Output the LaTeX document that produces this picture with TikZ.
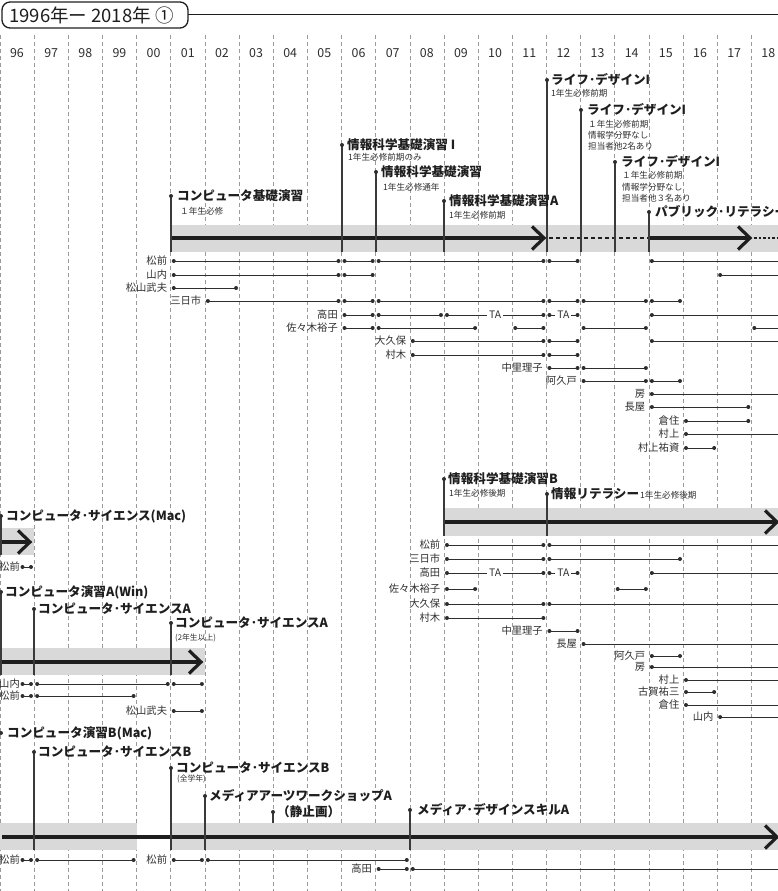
\documentclass[tikz,border=0pt]{standalone}
\usepackage{fontspec}
\setmainfont{Noto Sans CJK JP}
\definecolor{bandc}{HTML}{D9D9D9}
\definecolor{ink}{HTML}{1E1E1E}
\definecolor{txt}{HTML}{2E2E2E}
\definecolor{stemc}{HTML}{3A3A3A}
\definecolor{gridc}{HTML}{9A9A9A}
\tikzset{
  gridline/.style={gridc, line width=0.6pt, dash pattern=on 4pt off 3pt},
  bandfill/.style={fill=bandc, draw=none},
  mainline/.style={ink, line width=3.4pt},
  chevline/.style={ink, line width=3.2pt, line join=miter, line cap=butt},
  stemline/.style={stemc, line width=1.1pt},
  pline/.style={txt, line width=1pt},
  pdot/.style={fill=txt},
  ttl/.style={anchor=west, inner sep=0pt, font=\fontsize{12.6}{13}\selectfont\bfseries, text=ink},
  subt/.style={anchor=west, inner sep=0pt, font=\fontsize{8.6}{9}\selectfont, text=txt},
  pname/.style={anchor=east, inner sep=0pt, font=\fontsize{10.3}{11}\selectfont, text=txt},
  yearlab/.style={inner sep=0pt, font=\fontsize{12.4}{13}\selectfont, text=txt},
  talabel/.style={fill=white, inner xsep=2pt, inner ysep=1pt, font=\fontsize{10.3}{11}\selectfont, text=txt},
}
% person segments
\newcommand\tlseg[3]{%
  \draw[pline] ({34.15*#2+3},#1) -- ({34.15*#3-3},#1);
  \fill[pdot] ({34.15*#2+3},#1) circle[radius=2pt] ({34.15*#3-3},#1) circle[radius=2pt];}
\newcommand\tlsego[2]{%
  \draw[pline] ({34.15*#2+3},#1) -- (782,#1);
  \fill[pdot] ({34.15*#2+3},#1) circle[radius=2pt];}
\newcommand\tlsegx[3]{%
  \draw[pline] (#2,#1) -- (#3,#1);
  \fill[pdot] (#2,#1) circle[radius=2pt] (#3,#1) circle[radius=2pt];}
\newcommand\tlsegta[3]{%
  \tlseg{#1}{#2}{#3}
  \node[talabel] at ({34.15*(#2+#3)/2},#1) {TA};}
\newcommand\tlpn[4]{\node[pname] (#1) at ({34.15*#3-3.5},#4) {#2};}
\newcommand\tlpnx[4]{\node[pname] (#1) at (#3,#4) {#2};}
% stems
\newcommand\tlstem[4]{% name x ytop ybottom
  \coordinate (#1top) at (#2,#3); \coordinate (#1bot) at (#2,#4);
  \draw[stemline] (#1top) -- (#1bot);
  \fill[pdot] (#1top) circle[radius=2pt];}
\newcommand\tlchev[2]{\draw[chevline] ({#1-12},{#2-11.5}) -- (#1,#2) -- ({#1-12},{#2+11.5});}
\begin{document}
\begin{tikzpicture}[x=1pt,y=-1pt]
\useasboundingbox (0,0) rectangle (778,891);
\clip (0,0) rectangle (778,891);
% grid
\foreach \k in {0,...,22}{
  \draw[gridline] ({max(34.15*\k,0.4)},35) -- ({max(34.15*\k,0.4)},891);
}
\foreach \lab [count=\i from 0] in {96,97,98,99,00,01,02,03,04,05,06,07,08,09,10,11,12,13,14,15,16,17,18}{
  \node[yearlab] (y\i) at ({34.15*\i+17},53) {\lab};
}
% header
\draw[ink, line width=1.3pt, rounded corners=8pt] (2,2) rectangle (188,28);
\node[anchor=west, inner sep=0pt, font=\fontsize{18.5}{19}\selectfont, text=ink] (hdr) at (9,15.5) {1996年ー 2018年 ①};
\coordinate (hl0) at (188,15); \coordinate (hl1) at (782,15);
\draw[ink, line width=1pt] (hl0) -- (hl1);

% ================= track 1
\fill[bandfill] (171,225) rectangle (782,252);
\draw[mainline] (171,238) -- (543,238);
\tlchev{544}{238}
\draw[ink, line width=2pt, dash pattern=on 4pt off 3pt] (549,238) -- (649,238);
\draw[mainline] (649,238) -- (749,238);
\tlchev{750}{238}
\draw[ink, line width=2pt, dash pattern=on 2.5pt off 2pt] (754,238) -- (782,238);
\tlstem{a1}{171}{196}{252}
\tlstem{a2}{342}{145}{252}
\tlstem{a3}{376}{172}{252}
\tlstem{a4}{444}{201}{252}
\tlstem{a5}{547}{80}{252}
\tlstem{a6}{581}{110}{252}
\tlstem{a7}{615}{162}{252}
\tlstem{a8}{649}{212}{252}
\node[ttl] (ta1) at (177,196) {コンピュータ基礎演習};
\node[subt] at (180,211) {１年生必修};
\node[ttl] (ta2) at (347,145) {情報科学基礎演習 I};
\node[subt] at (348,157) {1年生必修前期のみ};
\node[ttl] (ta3) at (381,172) {情報科学基礎演習};
\node[subt] at (383,187) {1年生必修通年};
\node[ttl] (ta4) at (449,201) {情報科学基礎演習A};
\node[subt] at (449,215) {1年生必修前期};
\node[ttl] (ta5) at (551,80) {ライフ･デザインI};
\node[subt] at (551,93) {1年生必修前期};
\node[ttl] (ta6) at (587,110) {ライフ･デザインI};
\node[subt] at (588,124) {１年生必修前期};
\node[subt] at (588,135) {情報学分野なし};
\node[subt] at (588,146) {担当者他2名あり};
\node[ttl] (ta7) at (621,162) {ライフ･デザインI};
\node[subt] at (622,175) {１年生必修前期};
\node[subt] at (622,187) {情報学分野なし};
\node[subt] at (622,198) {担当者他３名あり};
\node[ttl] (ta8) at (655,212) {パブリック･リテラシー};

% people track 1
\tlpn{p1}{松前}{5}{261}
\tlseg{261}{5}{10}\tlseg{261}{10}{11}\tlseg{261}{11}{16}\tlseg{261}{16}{17}\tlsego{261}{19}
\tlpn{p2}{山内}{5}{275}
\tlseg{275}{5}{10}\tlseg{275}{10}{11}\tlsego{275}{21}
\tlpn{p3}{松山武夫}{5}{288}
\tlseg{288}{5}{7}
\tlpn{p4}{三日市}{6}{301}
\tlseg{301}{6}{10}\tlseg{301}{10}{11}\tlseg{301}{11}{16}\tlseg{301}{16}{17}\tlseg{301}{17}{19}\tlseg{301}{19}{20}
\tlpn{p5}{高田}{10}{315}
\tlseg{315}{10}{11}\tlseg{315}{11}{13}\tlsegta{315}{13}{16}\tlsegta{315}{16}{17}\tlsego{315}{19}
\tlpn{p6}{佐々木裕子}{10}{328}
\tlseg{328}{10}{11}\tlseg{328}{11}{14}\tlseg{328}{15}{16}\tlseg{328}{17}{19}\tlsego{328}{22}
\tlpn{p7}{大久保}{12}{341}
\tlseg{341}{12}{16}\tlseg{341}{16}{17}\tlsego{341}{19}
\tlpn{p8}{村木}{12}{355}
\tlseg{355}{12}{16}\tlseg{355}{16}{17}
\tlpn{p9}{中里理子}{16}{368}
\tlseg{368}{16}{17}\tlseg{368}{17}{19}
\tlpn{p10}{阿久戸}{17}{381}
\tlseg{381}{17}{19}\tlseg{381}{19}{20}
\tlpn{p11}{房}{19}{394}
\tlsego{394}{19}
\tlpn{p12}{長屋}{19}{407}
\tlseg{407}{19}{22}
\tlpn{p13}{倉住}{20}{421}
\tlseg{421}{20}{22}
\tlpn{p14}{村上}{20}{434}
\tlsego{434}{20}
\tlpn{p15}{村上祐資}{20}{448}
\tlseg{448}{20}{21}

% ================= track 2
\fill[bandfill] (444,508) rectangle (782,536);
\draw[mainline] (444,522) -- (776,522);
\tlchev{777}{522}
\tlstem{b1}{444}{479}{536}
\tlstem{b2}{547}{494}{536}
\node[ttl] (tb1) at (448,479) {情報科学基礎演習B};
\node[subt] at (449,493) {1年生必修後期};
\node[ttl] (tb2) at (551,494) {情報リテラシー};
\node[subt] at (640,495) {1年生必修後期};
\tlpn{q1}{松前}{13}{545}
\tlseg{545}{13}{16}\tlsego{545}{16}
\tlpn{q2}{三日市}{13}{559}
\tlseg{559}{13}{16}\tlseg{559}{16}{20}
\tlpn{q3}{高田}{13}{573}
\tlsegta{573}{13}{16}\tlsegta{573}{16}{17}\tlsego{573}{19}
\tlpn{q4}{佐々木裕子}{13}{589}
\tlseg{589}{13}{14}\tlseg{589}{18}{19}
\tlpn{q5}{大久保}{13}{604}
\tlseg{604}{13}{16}\tlsego{604}{16}
\tlpn{q6}{村木}{13}{618}
\tlseg{618}{13}{16}
\tlpn{q7}{中里理子}{16}{631}
\tlseg{631}{16}{17}
\tlpn{q8}{長屋}{17}{644}
\tlsego{644}{17}
\tlpn{q9}{阿久戸}{19}{656}
\tlseg{656}{19}{20}
\tlpn{q10}{房}{19}{667}
\tlsego{667}{19}
\tlpn{q11}{村上}{20}{680}
\tlsego{680}{20}
\tlpn{q12}{古賀祐三}{20}{692}
\tlseg{692}{20}{21}
\tlpn{q13}{倉住}{20}{705}
\tlsego{705}{20}
\tlpn{q14}{山内}{21}{717}
\tlsego{717}{21}

% ================= track 3
\fill[bandfill] (-2,528) rectangle (34,555);
\draw[mainline] (-2,542) -- (29,542);
\tlchev{30}{542}
\tlstem{c1}{1}{516}{555}
\node[ttl] (tc1) at (6,516) {コンピュータ･サイエンス(Mac)};
\tlpnx{r1}{松前}{20}{567}
\tlsegx{567}{22.5}{31}

% ================= track 4
\fill[bandfill] (-2,648) rectangle (205,675);
\draw[mainline] (-2,662) -- (200,662);
\tlchev{201}{662}
\tlstem{d1}{1}{592}{675}
\tlstem{d2}{34}{609}{675}
\tlstem{d3}{171}{623}{675}
\node[ttl] (td1) at (5,592) {コンピュータ演習A(Win)};
\node[ttl] (td2) at (38,609) {コンピュータ･サイエンスA};
\node[ttl] (td3) at (175,623) {コンピュータ･サイエンスA};
\node[subt, font=\fontsize{7.8}{9}\selectfont] at (175,638) {(2年生以上)};
\tlpnx{s1}{山内}{20}{684}
\tlsegx{684}{22.5}{31}\tlseg{684}{1}{5}\tlseg{684}{5}{6}
\tlpnx{s2}{松前}{20}{696}
\tlsegx{696}{22.5}{31}\tlseg{696}{1}{4}
\tlpn{s3}{松山武夫}{5}{711}
\tlseg{711}{5}{6}

% ================= track 5
\fill[bandfill] (-2,823) rectangle (137,850);
\fill[bandfill] (171,823) rectangle (782,850);
\draw[mainline] (2,837) -- (776,837);
\tlchev{777}{837}
\fill[pdot] (1,733) circle[radius=2pt];
\tlstem{e2}{34}{752}{850}
\tlstem{e3}{171}{768}{850}
\tlstem{e4}{205}{796}{850}
\tlstem{e5}{273}{812}{823}
\tlstem{e6}{410}{810}{850}
\node[ttl] (te1) at (7,733) {コンピュータ演習B(Mac)};
\node[ttl] (te2) at (38,752) {コンピュータ･サイエンスB};
\node[ttl] (te3) at (176,768) {コンピュータ･サイエンスB};
\node[subt, font=\fontsize{7.8}{9}\selectfont] at (177,779) {(全学年)};
\node[ttl] (te4) at (209,796) {メディアアーツワークショップA};
\node[ttl] (te5) at (277,812) {（静止画）};
\node[ttl] (te6) at (417,810) {メディア･デザインスキルA};
\tlpnx{u1}{松前}{20}{860}
\tlsegx{860}{22.5}{31}\tlseg{860}{1}{4}
\tlpn{u2}{松前}{5}{860}
\tlseg{860}{5}{6}\tlseg{860}{6}{12}
\tlpn{u3}{高田}{11}{869}
\tlseg{869}{11}{12}\tlsego{869}{12}
\end{tikzpicture}
\end{document}
